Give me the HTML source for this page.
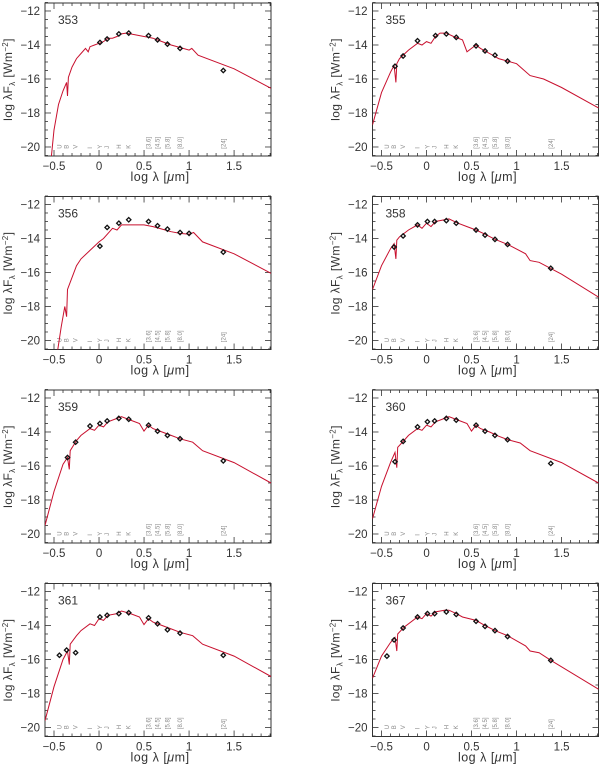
<!DOCTYPE html>
<html><head><meta charset="utf-8"><style>
html,body{margin:0;padding:0;background:#fff;width:600px;height:766px;overflow:hidden}
svg{display:block}
text{font-family:"Liberation Sans",sans-serif}
</style></head><body>
<svg id="fig" width="600" height="766" viewBox="0 0 600 766"></svg>
<script>
const panelIds = ["353","355","356","358","359","360","361","367"];
const curve353 = [[-0.53,-20.6],[-0.5,-19],[-0.45,-17.5],[-0.4,-16.7],[-0.36,-16.2],[-0.35,-17],[-0.34,-15.9],[-0.3,-15.3],[-0.25,-14.8],[-0.2,-14.5],[-0.15,-14.2],[-0.12,-14.4],[-0.1,-14.1],[-0.05,-14.0],[0,-13.9],[0.05,-13.8],[0.1,-13.6],[0.15,-13.6],[0.2,-13.5],[0.25,-13.35],[0.3,-13.3],[0.4,-13.4],[0.5,-13.5],[0.55,-13.55],[0.6,-13.6],[0.7,-13.8],[0.8,-14.0],[0.9,-14.15],[1.0,-14.3],[1.03,-14.2],[1.1,-14.6],[1.5,-15.4],[1.91,-16.55]];
const pts353 = [[0.01,-13.85],[0.09,-13.65],[0.22,-13.35],[0.33,-13.3],[0.55,-13.45],[0.65,-13.7],[0.76,-13.95],[0.9,-14.2],[1.38,-15.5]];
const curve355 = [[-0.6,-18.7],[-0.5,-16.8],[-0.4,-15.6],[-0.36,-15.2],[-0.34,-16.2],[-0.33,-15.1],[-0.3,-14.8],[-0.2,-14.3],[-0.1,-13.9],[-0.05,-14.0],[0,-13.8],[0.05,-13.9],[0.1,-13.5],[0.15,-13.3],[0.22,-13.3],[0.3,-13.5],[0.4,-13.7],[0.45,-14.4],[0.5,-14.2],[0.55,-14.0],[0.6,-14.2],[0.7,-14.5],[0.8,-14.8],[0.9,-14.95],[1.0,-15.1],[1.15,-15.8],[1.3,-16.0],[1.5,-16.5],[1.91,-17.7]];
const pts355 = [[-0.35,-15.25],[-0.26,-14.65],[-0.1,-13.75],[0.1,-13.45],[0.22,-13.35],[0.33,-13.55],[0.55,-14.05],[0.65,-14.35],[0.76,-14.6],[0.9,-14.95]];
const curve356 = [[-0.46,-20.6],[-0.42,-19.2],[-0.38,-18],[-0.36,-18.6],[-0.35,-17],[-0.3,-16.3],[-0.25,-15.6],[-0.2,-15.2],[-0.1,-14.7],[0,-14.2],[0.05,-14.0],[0.1,-13.7],[0.15,-13.4],[0.2,-13.5],[0.25,-13.2],[0.4,-13.2],[0.5,-13.2],[0.6,-13.3],[0.7,-13.45],[0.8,-13.6],[0.9,-13.7],[1.0,-13.75],[1.05,-13.65],[1.15,-14.2],[1.5,-14.9],[1.91,-16.05]];
const pts356 = [[0.01,-14.45],[0.09,-13.35],[0.22,-13.1],[0.33,-12.9],[0.55,-13.0],[0.65,-13.25],[0.76,-13.45],[0.9,-13.65],[1.0,-13.7],[1.38,-14.8]];
const curve358 = [[-0.6,-17],[-0.5,-15.6],[-0.4,-14.6],[-0.36,-14.3],[-0.34,-15.2],[-0.33,-14.1],[-0.3,-13.9],[-0.2,-13.5],[-0.1,-13.2],[-0.05,-13.4],[0,-13.1],[0.05,-13.3],[0.1,-13.0],[0.2,-12.9],[0.25,-12.85],[0.35,-13.1],[0.45,-13.3],[0.55,-13.5],[0.65,-13.75],[0.76,-14.05],[0.9,-14.35],[1.1,-14.9],[1.15,-15.3],[1.25,-15.4],[1.5,-16.1],[1.91,-17.45]];
const pts358 = [[-0.36,-14.5],[-0.26,-13.85],[-0.1,-13.2],[0.01,-13.0],[0.09,-13.0],[0.22,-12.95],[0.33,-13.1],[0.55,-13.5],[0.65,-13.8],[0.76,-14.05],[0.9,-14.35],[1.38,-15.75]];
const curve359 = [[-0.6,-19.5],[-0.5,-17.5],[-0.4,-15.9],[-0.35,-15.5],[-0.33,-16.2],[-0.32,-15.1],[-0.25,-14.5],[-0.2,-14.2],[-0.1,-13.8],[-0.05,-13.9],[0,-13.6],[0.05,-13.7],[0.1,-13.4],[0.2,-13.2],[0.25,-13.1],[0.35,-13.3],[0.45,-13.5],[0.5,-13.95],[0.55,-13.6],[0.6,-13.8],[0.7,-14.0],[0.8,-14.2],[0.9,-14.4],[1.04,-14.6],[1.15,-15.1],[1.5,-15.8],[1.91,-17.0]];
const pts359 = [[-0.35,-15.5],[-0.26,-14.6],[-0.1,-13.65],[0.01,-13.5],[0.09,-13.35],[0.22,-13.2],[0.33,-13.25],[0.55,-13.6],[0.65,-13.95],[0.76,-14.2],[0.9,-14.4],[1.38,-15.7]];
const curve360 = [[-0.6,-19.1],[-0.5,-17.2],[-0.4,-15.8],[-0.35,-15.2],[-0.33,-16.1],[-0.32,-14.9],[-0.25,-14.5],[-0.2,-14.2],[-0.1,-13.8],[-0.05,-13.9],[0,-13.6],[0.05,-13.7],[0.1,-13.4],[0.2,-13.2],[0.25,-13.1],[0.35,-13.3],[0.45,-13.5],[0.5,-13.95],[0.55,-13.6],[0.6,-13.8],[0.7,-14.0],[0.8,-14.25],[0.9,-14.45],[1.04,-14.65],[1.15,-15.1],[1.5,-15.8],[1.91,-17.0]];
const pts360 = [[-0.35,-15.75],[-0.26,-14.55],[-0.1,-13.7],[0.01,-13.4],[0.09,-13.35],[0.22,-13.2],[0.33,-13.3],[0.55,-13.6],[0.65,-13.95],[0.76,-14.2],[0.9,-14.45],[1.38,-15.85]];
const curve361 = [[-0.6,-19.6],[-0.5,-17.6],[-0.4,-16.0],[-0.35,-15.5],[-0.33,-16.3],[-0.32,-15.1],[-0.25,-14.6],[-0.2,-14.3],[-0.1,-13.9],[-0.05,-14.0],[0,-13.6],[0.05,-13.7],[0.1,-13.4],[0.2,-13.3],[0.25,-13.15],[0.35,-13.3],[0.45,-13.5],[0.5,-13.95],[0.55,-13.6],[0.6,-13.8],[0.7,-14.0],[0.8,-14.2],[0.9,-14.4],[1.04,-14.6],[1.15,-15.1],[1.5,-15.8],[1.91,-17.0]];
const pts361 = [[-0.44,-15.75],[-0.36,-15.45],[-0.26,-15.6],[0.01,-13.5],[0.09,-13.4],[0.22,-13.3],[0.33,-13.25],[0.55,-13.55],[0.65,-13.9],[0.76,-14.25],[0.9,-14.45],[1.38,-15.75]];
const curve367 = [[-0.6,-17.1],[-0.5,-15.8],[-0.4,-15],[-0.35,-14.7],[-0.33,-15.5],[-0.32,-14.5],[-0.25,-14.1],[-0.1,-13.5],[-0.05,-13.6],[0,-13.3],[0.05,-13.45],[0.1,-13.2],[0.2,-13.1],[0.25,-13.1],[0.33,-13.3],[0.4,-13.5],[0.55,-13.7],[0.65,-14.0],[0.76,-14.3],[0.9,-14.6],[1.1,-15.2],[1.15,-15.5],[1.25,-15.6],[1.38,-16.05],[1.91,-17.75]];
const pts367 = [[-0.44,-15.8],[-0.36,-14.85],[-0.26,-14.15],[-0.1,-13.5],[0.01,-13.3],[0.09,-13.3],[0.22,-13.2],[0.33,-13.35],[0.55,-13.75],[0.65,-14.05],[0.76,-14.3],[0.9,-14.65],[1.38,-16.05]];
const curves = [curve353,curve355,curve356,curve358,curve359,curve360,curve361,curve367];
const points = [pts353,pts355,pts356,pts358,pts359,pts360,pts361,pts367];
const xTicks = [-0.5,0,0.5,1,1.5];
const xTickLabels = ["\u22120.5","0","0.5","1","1.5"];
const yTicks = [-12,-14,-16,-18,-20];
const yTickLabels = ["\u221212","\u221214","\u221216","\u221218","\u221220"];
const filterNames = ["U","B","V","I","Y","J","H","K","[3.6]","[4.5]","[5.8]","[8.0]","[24]"];
const filterPos = [-0.44,-0.36,-0.26,-0.1,0.01,0.09,0.22,0.33,0.55,0.65,0.76,0.9,1.38];

const NS="http://www.w3.org/2000/svg";
const svg=document.getElementById('fig');
function mk(tag,attrs,parent){const e=document.createElementNS(NS,tag);for(const k in attrs)e.setAttribute(k,attrs[k]);parent.appendChild(e);return e;}
const X0=-0.6,X1=1.91,Y0=-20.53,Y1=-11.53,W=226,H=153;
for(let i=0;i<8;i++){
  const col=i%2,row=Math.floor(i/2);
  const L=45+col*327.5,T=3+row*193.5;
  const sx=v=>L+(v-X0)/(X1-X0)*W;
  const sy=v=>T+(Y1-v)/(Y1-Y0)*H;
  const g=mk('g',{},svg);
  
  
  const cp=mk('clipPath',{id:'c'+i},g);
  mk('rect',{x:L,y:T,width:W,height:H},cp);
  const tk=mk('g',{stroke:'#333','stroke-width':0.8},g);
  
  
  for(let k=-6;k<=19;k++){const v=k/10;const x=sx(v);const maj=(k%5===0);const len=maj?6:3;
    mk('line',{x1:x,y1:T+H,x2:x,y2:T+H-len},tk);mk('line',{x1:x,y1:T,x2:x,y2:T+len},tk);}
  for(let k=-20.5;k<=-11.5;k+=0.5){const y=sy(k);const maj=(k%2===0);const len=maj?6:3;
    mk('line',{x1:L,y1:y,x2:L+len,y2:y},tk);mk('line',{x1:L+W,y1:y,x2:L+W-len,y2:y},tk);}
  const fr=mk('rect',{x:L,y:T,width:W,height:H,fill:'none',stroke:'#333','stroke-width':1},g);
  
  
  xTicks.forEach((v,j)=>{const t=mk('text',{x:sx(v),y:T+H+14,'font-size':11.5,'text-anchor':'middle',fill:'#333'},g);t.textContent=xTickLabels[j];
    
    });
  yTicks.forEach((v,j)=>{const t=mk('text',{x:L-5,y:sy(v)+4,'font-size':11.5,'text-anchor':'end',fill:'#333'},g);t.textContent=yTickLabels[j];
    
    });
  const xl=mk('text',{x:L+W/2+2,y:T+H+25,'font-size':12.5,'text-anchor':'middle',fill:'#333','letter-spacing':'0.5'},g);
  xl.innerHTML='log \u03bb [<tspan font-style="italic">\u03bc</tspan>m]';
  
  
  const yl=mk('text',{transform:`translate(${L-33},${T+H/2}) rotate(-90)`,'font-size':12,'text-anchor':'middle',fill:'#333','letter-spacing':'0.4'},g);
  yl.innerHTML='log \u03bbF<tspan font-size="8" dy="3">\u03bb</tspan><tspan dy="-3"> [Wm</tspan><tspan font-size="8" dy="-4">\u22122</tspan><tspan dy="4">]</tspan>';
  
  
  const id=mk('text',{x:L+13,y:T+21,'font-size':12,fill:'#333'},g);id.textContent=panelIds[i];
  
  
  filterNames.forEach((n,j)=>{const x=sx(filterPos[j]);const y=sy(-20.1);
    const t=mk('text',{transform:`translate(${x+2},${y}) rotate(-90)`,'font-size':6,fill:'#888'},g);t.textContent=n;
    
    });
  const d=curves[i].map((p,j)=>(j?'L':'M')+sx(p[0]).toFixed(1)+' '+sy(p[1]).toFixed(1)).join(' ');
  const path=mk('path',{d:d,fill:'none',stroke:'#c8102e','stroke-width':1,'clip-path':`url(#c${i})`},g);
  
  
  points[i].forEach(p=>{const c=mk('path',{d:`M${sx(p[0])} ${sy(p[1])-2.2} l2.2 2.2 l-2.2 2.2 l-2.2 -2.2 z`,fill:'none',stroke:'#111','stroke-width':1.3},g);
    
    });
}
</script>
</body></html>
